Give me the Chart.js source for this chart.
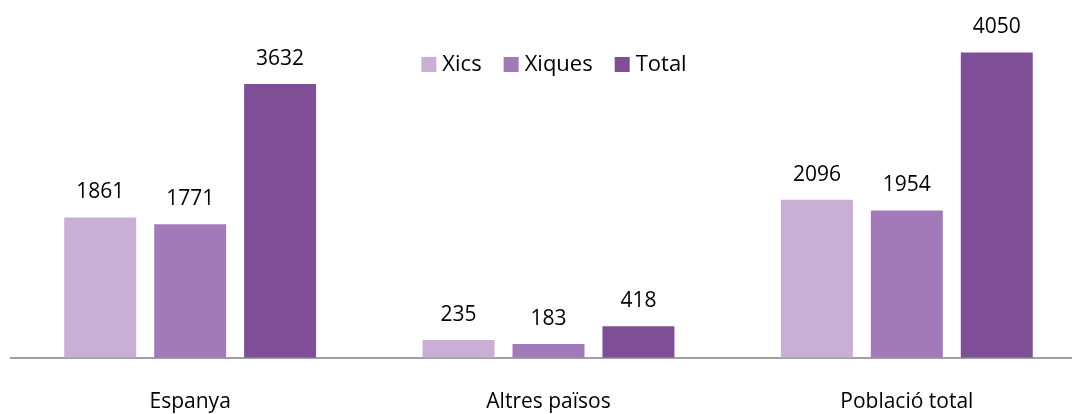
<!DOCTYPE html>
<html><head><meta charset="utf-8">
<script src="https://cdn.jsdelivr.net/npm/chart.js@4/dist/chart.umd.min.js"></script>
<style>
html,body{margin:0;padding:0;background:#fff;overflow:hidden;width:1072px;height:414px;}
#wrap{position:absolute;left:0;top:0;width:1090px;height:447px;}
</style></head>
<body>
<div id="wrap"><canvas id="c" width="1090" height="447"></canvas></div>
<script>
const categories = ["Espanya", "Altres països", "Població total"];
const seriesNames = ["Xics", "Xiques", "Total"];
const xics = [1861, 235, 2096];
const xiques = [1771, 183, 1954];
const total = [3632, 418, 4050];
const colors = ["#C9AED6", "#A37AB9", "#7E4F96"];
const FONT = "'Open Sans', sans-serif";

const valueLabels = {
  id: 'valueLabels',
  afterDatasetsDraw(chart) {
    const ctx = chart.ctx;
    ctx.save();
    ctx.font = "21px " + FONT;
    ctx.fillStyle = "#000";
    ctx.textAlign = "center";
    ctx.textBaseline = "middle";
    chart.data.datasets.forEach((ds, i) => {
      chart.getDatasetMeta(i).data.forEach((bar, j) => {
        ctx.fillText(String(ds.data[j]), bar.x, bar.y - 25);
      });
    });
    ctx.restore();
  }
};

const customLegend = {
  id: 'customLegend',
  afterDraw(chart) {
    const ctx = chart.ctx;
    ctx.save();
    ctx.font = "22px " + FONT;
    ctx.textBaseline = "middle";
    const box = 15, gapBox = 6, gapItem = 22;
    const items = chart.data.datasets.map(d => ({label: d.label, color: d.backgroundColor, w: ctx.measureText(d.label).width}));
    let totalW = items.reduce((s, it) => s + box + gapBox + it.w, 0) + gapItem * (items.length - 1);
    let x = 554 - totalW / 2;
    const y = 64.5;
    items.forEach(it => {
      ctx.fillStyle = it.color;
      ctx.fillRect(x, y - box / 2, box, box);
      x += box + gapBox;
      ctx.fillStyle = "#000";
      ctx.textAlign = "left";
      ctx.fillText(it.label, x, y);
      x += it.w + gapItem;
    });
    ctx.restore();
  }
};

new Chart(document.getElementById('c'), {
  type: 'bar',
  data: {
    labels: categories,
    datasets: [
      {label: seriesNames[0], data: xics, backgroundColor: colors[0]},
      {label: seriesNames[1], data: xiques, backgroundColor: colors[1]},
      {label: seriesNames[2], data: total, backgroundColor: colors[2]}
    ]
  },
  options: {
    responsive: false,
    animation: false,
    devicePixelRatio: 1,
    categoryPercentage: 0.753,
    barPercentage: 0.8,
    layout: {padding: {left: 11, right: 4, top: 18.5, bottom: 0}},
    plugins: {legend: {display: false}, tooltip: {enabled: false}},
    scales: {
      x: {
        grid: {display: false, drawTicks: false},
        border: {display: true, color: "#A0A0A0", width: 2},
        ticks: {color: "#000", font: {family: FONT, size: 21}, padding: 32}
      },
      y: {
        display: false,
        min: 0, max: 4500
      }
    }
  },
  plugins: [valueLabels, customLegend]
});
</script>
</body></html>
